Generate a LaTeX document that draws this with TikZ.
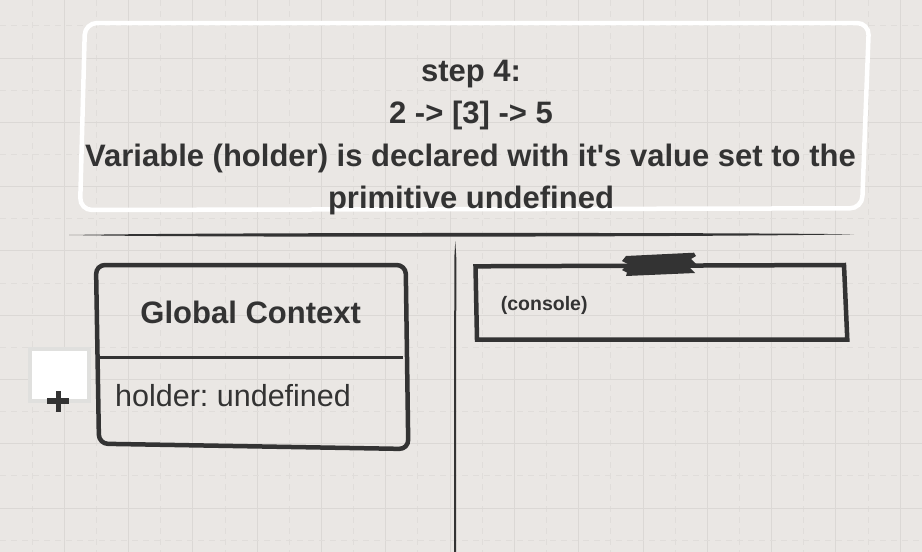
\documentclass[tikz,border=0pt]{standalone}
\usepackage{fontspec}
\setmainfont{Liberation Sans}
\usepackage{tikz}
\frenchspacing
\definecolor{paper}{HTML}{EAE7E4}
\definecolor{gridsolid}{HTML}{DBD8D5}
\definecolor{griddash}{HTML}{E0DDDA}
\definecolor{ink}{HTML}{333333}
\definecolor{frame}{HTML}{E0E0DE}
\tikzset{
  sketch/.style={line width=4.5, draw=ink, line join=round},
  boldtext/.style={anchor=base, text=ink, inner sep=0, font=\fontsize{31}{36}\selectfont\bfseries},
  plaintext/.style={anchor=base west, text=ink, inner sep=0, font=\fontsize{30.5}{36}\selectfont},
}

\begin{document}
\begin{tikzpicture}[x=1pt, y=-1pt]

        \useasboundingbox (0,0) rectangle (922,552);
        \fill[paper] (0,0) rectangle (922,552);

        % Grid
        \foreach \i in {0,...,13} {
            \draw[griddash, line width=1, dash pattern=on 6pt off 5pt] (32.15+64.3*\i,0) -- ++(0,552);
            \draw[gridsolid, line width=1] (64.3+64.3*\i,0) -- ++(0,552);
        }
        \foreach \i in {0,...,8} {
            \draw[griddash, line width=1, dash pattern=on 6pt off 5pt] (0,25.85+64.3*\i) -- ++(922,0);
            \draw[gridsolid, line width=1] (0,58+64.3*\i) -- ++(922,0);
        }

        \coordinate (tl) at (85,23);
        \coordinate (tr) at (869,23);
        \coordinate (br) at (862,208.3);
        \coordinate (bl) at (80,210);

        \draw[white, line width=4.5, rounded corners=12pt] (tl) -- (tr) -- (br) -- (bl) -- cycle;

        \node[boldtext] (step) at (471,81) {step 4:};
        \node[boldtext] (order) at (471,123) {2 -> [3] -> 5};
        \node[boldtext] (declared) at (470.5,166) {Variable (holder) is declared with it\textquotesingle s value set to the};
        \node[boldtext] (primitive) at (471,208) {primitive undefined};

        \coordinate (sepL) at (69,235);
        \coordinate (sepR) at (854,234.3);
        \fill[ink] (sepL) .. controls (200,232.6) and (700,232.2) .. (sepR)
                          .. controls (700,237) and (200,237.6) .. (sepL) -- cycle;

        \coordinate (splitT) at (455.3,241);
        \coordinate (splitB) at (455,552);
        \fill[ink] (splitT) -- (456.3,258) -- (456,552) -- (454,552) -- (454.3,258) -- cycle;

        % global context
        \draw[sketch, rounded corners=9pt] (96,265) -- (405.7,265) -- (408.3,449) -- (99,443.7) -- cycle;
        \draw[ink, line width=3] (99,357.7) -- (403,357.7);
        \node[boldtext] (global) at (250.7,323) {Global Context};
        \node[plaintext] (holder) at (115,406.7) {holder: undefined};

        \draw[frame, fill=white, line width=4] (30.3,349) rectangle (89.3,401.3);
        \coordinate (plus) at (58.3,401.2);
        \draw[ink, line width=5.5] ([xshift=-11pt]plus) -- ([xshift=11pt]plus);
        \draw[ink, line width=5.5] ([yshift=-10.5pt]plus) -- ([yshift=10.5pt]plus);

        % console
        \draw[sketch, line join=miter] (475.5,266.3) -- (844,265) -- (847.3,339.7) -- (477,339.7) -- cycle;
        \fill[ink] (626,256) -- (622,261) -- (628,264) -- (622,270) -- (627,272.5) -- (626,276)
                   -- (695,273) -- (690,268) -- (696,264) -- (691,259) -- (696,256) -- (694,252.7) -- cycle;
        \node[anchor=base west, text=ink, inner sep=0, font=\fontsize{19.5}{24}\selectfont\bfseries] (console) at (500.7,310.5) {(console)};

\end{tikzpicture}
\end{document}
